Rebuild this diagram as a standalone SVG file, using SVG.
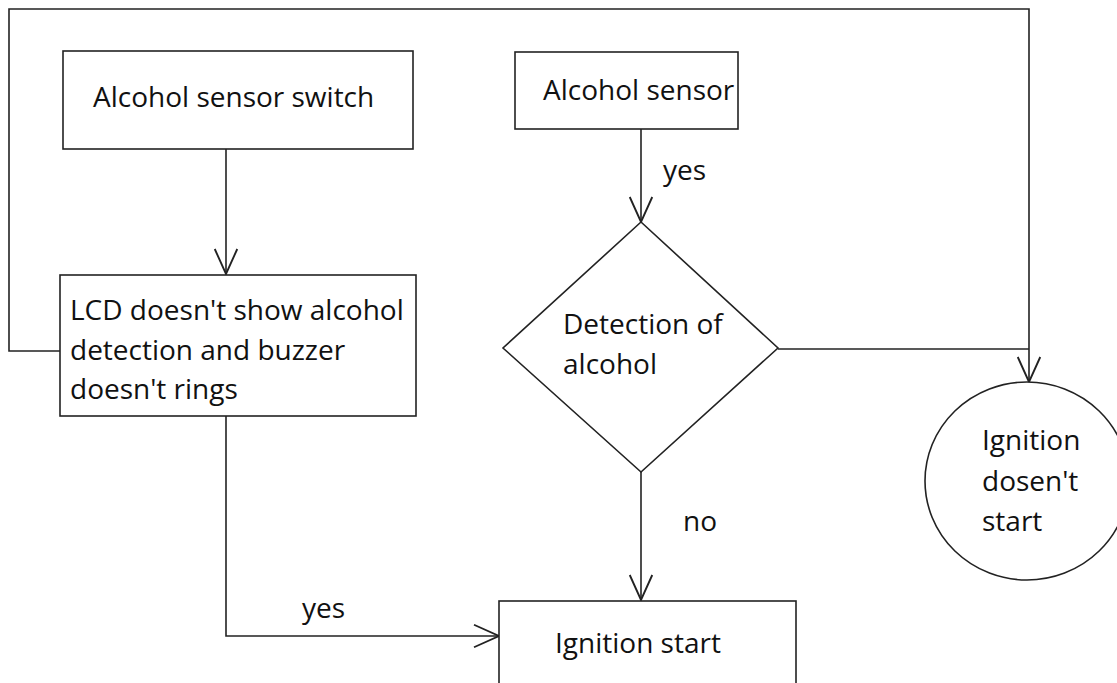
<svg xmlns="http://www.w3.org/2000/svg" width="1117" height="683" viewBox="0 0 1117 683">
<defs>
<style>
.box{fill:#fff;stroke:#222;stroke-width:1.6}
.ln{fill:none;stroke:#222;stroke-width:1.6}
.t{font-family:"Open Sans",Lato,sans-serif;font-size:28px;fill:#111}
</style>
<marker id="arr" markerUnits="userSpaceOnUse" markerWidth="30" markerHeight="30" viewBox="-22 -12 24 24" refX="0" refY="0" orient="auto">
<path d="M-20,-9 L0,0 L-20,9" fill="none" stroke="#222" stroke-width="1.5"/>
</marker>
</defs>
<rect width="1117" height="683" fill="#fff"/>
<g id="connectors">
<polyline class="ln" points="60,351 9,351 9,9 1029,9 1029,382" marker-end="url(#arr)"/>
<line class="ln" x1="226" y1="149" x2="226" y2="274" marker-end="url(#arr)"/>
<line class="ln" x1="641" y1="129" x2="641" y2="222" marker-end="url(#arr)"/>
<line class="ln" x1="778" y1="349" x2="1029" y2="349"/>
<line class="ln" x1="641" y1="472" x2="641" y2="600" marker-end="url(#arr)"/>
<polyline class="ln" points="226,416 226,636 499,636" marker-end="url(#arr)"/>
<text class="t" x="663" y="180">yes</text>
<text class="t" x="683" y="531">no</text>
<text class="t" x="302" y="618">yes</text>
</g>
<g id="switch">
<rect class="box" x="63" y="51" width="350" height="98"/>
<text class="t" x="93" y="107">Alcohol sensor switch</text>
</g>
<g id="sensor">
<rect class="box" x="515" y="52" width="223" height="77"/>
<text class="t" x="543" y="100">Alcohol sensor</text>
</g>
<g id="lcd">
<rect class="box" x="60" y="275" width="356" height="141"/>
<text class="t" x="70" y="320">LCD doesn't show alcohol</text>
<text class="t" x="70" y="360">detection and buzzer</text>
<text class="t" x="70" y="399">doesn't rings</text>
</g>
<g id="detect">
<polygon class="box" points="641,222 778,348 641,472 503,348"/>
<text class="t" x="563" y="334">Detection of</text>
<text class="t" x="563" y="374">alcohol</text>
</g>
<g id="nostart">
<ellipse class="box" cx="1027" cy="481" rx="102" ry="99"/>
<text class="t" x="982" y="450">Ignition</text>
<text class="t" x="982" y="491">dosen't</text>
<text class="t" x="982" y="531">start</text>
</g>
<g id="start">
<rect class="box" x="499" y="601" width="297" height="100"/>
<text class="t" x="555" y="653">Ignition start</text>
</g>
</svg>
